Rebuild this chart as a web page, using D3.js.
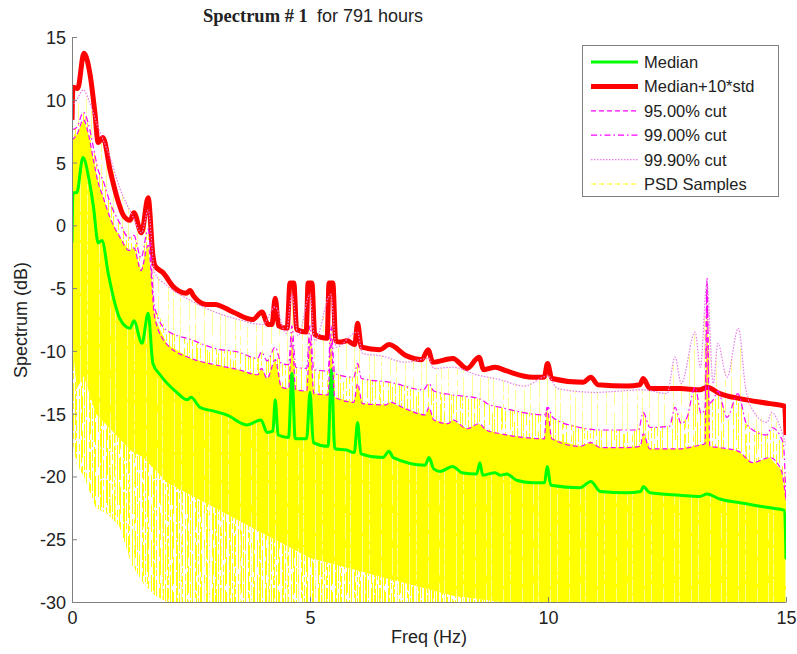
<!DOCTYPE html>
<html>
<head>
<meta charset="utf-8">
<script src="https://cdn.jsdelivr.net/npm/d3@7"></script>
<style>
  body { margin: 0; background: #fff; }
  svg { display: block; }
  .tick text { font-family: Arial, "Liberation Sans", sans-serif; font-size: 18px; fill: #222; }
</style>
</head>
<body>
<script>
// values: [freq Hz, dB]
var median = [[0,-1.4],[0.02,2.6],[0.1,2.6],[0.23,5.4],[0.36,3.6],[0.45,1.5],[0.55,-1.4],[0.63,-1.2],[0.76,-3.8],[0.9,-6.2],[1.0,-7.4],[1.22,-8.2],[1.3,-7.6],[1.47,-9.4],[1.6,-7.0],[1.7,-11.0],[1.85,-11.9],[2.2,-13.3],[2.42,-13.9],[2.5,-13.7],[2.69,-14.5],[2.98,-14.8],[3.25,-15.1],[3.67,-15.9],[3.97,-15.5],[4.1,-16.5],[4.22,-16.4],[4.27,-13.9],[4.33,-16.7],[4.55,-16.9],[4.62,-11.8],[4.69,-17.0],[4.93,-17.0],[5.0,-13.3],[5.07,-17.3],[5.38,-17.6],[5.45,-11.5],[5.52,-17.8],[5.77,-17.9],[5.93,-18.1],[6.0,-15.7],[6.07,-18.2],[6.53,-18.5],[6.66,-18.0],[6.75,-18.5],[7.42,-19.1],[7.5,-18.5],[7.6,-19.4],[7.73,-19.6],[8.0,-19.2],[8.19,-19.7],[8.5,-19.8],[8.57,-18.9],[8.63,-19.9],[8.89,-19.7],[9.0,-19.9],[9.13,-19.8],[9.34,-20.3],[9.68,-20.5],[9.93,-20.5],[9.98,-19.2],[10.06,-20.7],[10.67,-20.9],[10.9,-20.4],[11.1,-21.2],[11.66,-21.3],[11.95,-21.2],[12.0,-20.8],[12.14,-21.3],[12.77,-21.5],[13.19,-21.6],[13.34,-21.4],[13.61,-21.8],[14.03,-22.1],[14.66,-22.5],[14.97,-22.7],[15.0,-26.6]];

var medianStd = [[0,8.4],[0.02,11.0],[0.12,10.9],[0.25,13.7],[0.38,12.0],[0.48,9.0],[0.55,6.6],[0.65,7.0],[0.8,4.4],[0.94,2.3],[1.08,0.8],[1.22,0.4],[1.3,1.0],[1.46,-0.6],[1.6,2.2],[1.7,-2.4],[1.74,-3.2],[1.92,-3.8],[2.13,-4.9],[2.4,-5.4],[2.48,-5.2],[2.55,-5.6],[2.83,-6.3],[3.0,-6.3],[3.38,-6.9],[3.8,-7.5],[3.99,-6.9],[4.12,-7.9],[4.2,-7.9],[4.27,-5.8],[4.34,-8.0],[4.52,-8.2],[4.58,-4.6],[4.66,-4.6],[4.72,-8.3],[4.92,-8.5],[4.96,-4.6],[5.04,-4.6],[5.1,-8.7],[5.36,-9.0],[5.4,-4.6],[5.48,-4.6],[5.54,-9.2],[5.63,-9.3],[5.78,-9.2],[5.94,-9.5],[6.0,-7.8],[6.08,-9.7],[6.47,-9.9],[6.66,-9.5],[7.03,-10.4],[7.35,-10.7],[7.48,-9.9],[7.58,-10.9],[8.0,-10.6],[8.3,-11.4],[8.55,-10.5],[8.65,-11.5],[8.89,-11.3],[9.13,-11.6],[9.68,-12.1],[9.92,-12.1],[9.99,-11.0],[10.08,-12.2],[10.74,-12.5],[10.9,-12.1],[11.05,-12.7],[11.66,-12.8],[11.93,-12.7],[12.0,-12.2],[12.14,-13.0],[12.77,-13.0],[13.19,-13.1],[13.34,-12.9],[13.61,-13.4],[14.03,-13.8],[14.66,-14.2],[14.97,-14.4],[15.0,-16.7]];

var cut95 = [[0,6.8],[0.1,7.2],[0.24,8.4],[0.35,7.2],[0.45,5.2],[0.55,3.4],[0.65,2.3],[0.8,0.6],[1.0,-0.9],[1.2,-2.0],[1.3,-1.8],[1.45,-3.6],[1.6,-1.6],[1.74,-7.4],[2.0,-9.5],[2.5,-10.6],[3.0,-11.1],[3.5,-11.5],[3.9,-11.9],[3.98,-11.4],[4.1,-12.2],[4.27,-10.7],[4.4,-12.9],[4.55,-13.0],[4.62,-9.0],[4.7,-13.1],[4.93,-13.2],[5.0,-9.0],[5.08,-13.4],[5.38,-13.5],[5.44,-9.0],[5.52,-13.7],[5.92,-14.1],[6.0,-12.6],[6.1,-14.2],[6.6,-14.3],[6.68,-14.1],[7.0,-14.6],[7.42,-15.1],[7.5,-14.5],[7.6,-15.5],[7.9,-15.8],[8.0,-15.5],[8.3,-16.2],[8.55,-15.8],[8.7,-16.3],[9.0,-16.6],[9.5,-16.9],[9.92,-17.0],[9.98,-14.5],[10.08,-17.0],[10.67,-17.6],[10.9,-17.3],[11.1,-17.7],[11.66,-17.7],[11.94,-17.6],[12.0,-16.6],[12.14,-17.8],[12.77,-17.8],[13.19,-17.5],[13.3,-17.4],[13.34,-5.0],[13.4,-17.6],[13.6,-17.7],[14.0,-18.0],[14.3,-18.9],[14.66,-18.5],[14.9,-19.5],[15.0,-21.9]];

var cut99 = [[0,7.6],[0.1,7.8],[0.24,9.0],[0.35,8.0],[0.45,6.2],[0.55,4.4],[0.65,3.6],[0.8,1.8],[1.0,0.2],[1.2,-1.0],[1.3,-0.8],[1.45,-2.6],[1.6,-0.3],[1.74,-6.6],[2.0,-8.4],[2.5,-9.1],[3.0,-9.8],[3.5,-10.1],[3.9,-10.6],[3.98,-10.1],[4.1,-10.8],[4.27,-9.7],[4.4,-11.0],[4.55,-11.1],[4.62,-8.0],[4.7,-11.3],[4.93,-11.4],[5.0,-8.0],[5.08,-11.5],[5.38,-11.6],[5.44,-8.0],[5.52,-11.8],[5.92,-12.1],[6.0,-11.0],[6.08,-12.2],[6.68,-12.5],[7.38,-13.1],[7.5,-12.6],[7.6,-13.2],[8.0,-13.5],[8.55,-13.8],[8.78,-14.3],[9.0,-14.5],[9.92,-15.1],[10.0,-14.5],[10.1,-15.3],[10.67,-16.1],[11.1,-16.3],[11.9,-16.3],[12.0,-14.9],[12.14,-16.1],[12.55,-16.0],[12.67,-14.5],[12.8,-15.8],[12.92,-15.3],[13.09,-12.9],[13.22,-15.0],[13.3,-14.5],[13.34,-4.2],[13.38,-14.2],[13.47,-13.9],[13.57,-13.2],[13.76,-15.3],[13.99,-13.4],[14.18,-15.9],[14.6,-16.7],[14.7,-16.1],[14.94,-17.3],[15.0,-21.9]];

var cut999 = [[0,9.5],[0.1,10.0],[0.24,10.8],[0.35,10.0],[0.52,8.1],[0.8,5.4],[1.0,3.0],[1.28,0.7],[1.46,-0.6],[1.6,1.2],[1.74,-3.8],[2.0,-4.8],[2.5,-6.0],[3.0,-6.9],[3.5,-7.5],[4.0,-7.9],[4.27,-6.5],[4.5,-8.6],[4.62,-5.5],[4.75,-8.8],[5.0,-5.5],[5.1,-9.2],[5.44,-5.5],[5.55,-9.7],[6.0,-8.5],[6.1,-10.2],[6.5,-10.4],[7.0,-10.9],[7.5,-10.6],[7.6,-11.4],[8.0,-11.3],[8.5,-11.9],[9.0,-12.3],[9.5,-12.8],[10.0,-12.0],[10.2,-13.0],[11.0,-13.3],[12.0,-13.1],[12.5,-13.4],[12.67,-10.5],[12.8,-12.6],[13.09,-8.5],[13.2,-11.3],[13.34,-4.5],[13.47,-12.6],[13.57,-9.4],[13.76,-12.1],[14.0,-8.2],[14.15,-12.9],[14.3,-14.7],[14.6,-15.7],[14.7,-14.9],[14.9,-16.3],[15.0,-17.5]];

// PSD sample cloud: lower edge of the solid part, and lowest reach of the streaks
var psdSolidLow = [[0,-9],[0.1,-13],[0.25,-12],[0.5,-15],[0.75,-16],[1,-17],[1.25,-18],[1.5,-18.5],[1.75,-19.5],[2,-20.5],[2.5,-21.5],[3,-22.5],[3.5,-23.5],[4,-24.5],[4.5,-25.5],[5,-26.5],[5.5,-27],[6,-27.5],[7,-28.5],[8,-29.5],[9,-30],[15,-30]];
var psdStreakLow = [[0,-17],[0.1,-19],[0.25,-20],[0.5,-22.5],[0.75,-23],[1,-24],[1.25,-27],[1.5,-28.5],[1.75,-29.5],[2,-30],[15,-30]];

var xTicks = [0, 5, 10, 15];
var yTicks = [15, 10, 5, 0, -5, -10, -15, -20, -25, -30];
var legendNames = ["Median", "Median+10*std", "95.00% cut", "99.00% cut", "99.90% cut", "PSD Samples"];

var W = 797, H = 654;
var x = d3.scaleLinear().domain([0, 15]).range([72, 786]);
var y = d3.scaleLinear().domain([-30, 15]).range([602, 37]);

var svg = d3.select("body").append("svg").attr("width", W).attr("height", H);
var defs = svg.append("defs");

defs.append("clipPath").attr("id", "plotclip")
    .append("rect").attr("x", 72).attr("y", 37).attr("width", 714).attr("height", 565);

// streak textures for the sample cloud (style only)
var dashSet = ["23,4", "9,3,31,6", "14,2", "40,5,7,3", "6,4,18,2", "27,8", "11,2,5,3", "50,3"];
function streaks(id, width, offsets, color, opacity) {
    var p = defs.append("pattern").attr("id", id)
        .attr("patternUnits", "userSpaceOnUse")
        .attr("width", width).attr("height", 240);
    offsets.forEach(function(o, i) {
        p.append("line")
            .attr("x1", o + 0.5).attr("x2", o + 0.5)
            .attr("y1", 0).attr("y2", 240)
            .attr("stroke", color).attr("stroke-width", 1)
            .attr("stroke-opacity", opacity)
            .attr("stroke-dasharray", dashSet[(i * 5) % dashSet.length])
            .attr("stroke-dashoffset", (i * 37) % 61);
    });
}
streaks("psdDense", 53, [0,1,3,4,6,8,9,11,13,14,17,18,20,22,23,26,28,29,31,33,36,37,39,41,42,45,47,48,50], "#ffff00", 1);
streaks("psdMid", 61, [1,4,6,9,13,14,17,22,24,26,29,33,35,38,41,44,47,50,52,57], "#ffff00", 0.85);
streaks("psdFaint", 67, [3,11,19,24,34,39,46,55,61], "#ffff50", 0.6);
streaks("psdHair", 47, [5,16,21,33,40], "#ffffff", 0.55);

function pts(d) { return d.map(function(p) { return [x(p[0]), y(p[1])]; }); }
function band(top, bottom) {
    return d3.line()(pts(top).concat(pts(bottom).reverse())) + "Z";
}

var plot = svg.append("g").attr("clip-path", "url(#plotclip)");

plot.append("path").attr("d", band(cut999, cut99)).attr("fill", "url(#psdFaint)");
plot.append("path").attr("d", band(cut99, cut95)).attr("fill", "url(#psdMid)");
plot.append("path").attr("d", band(psdSolidLow, psdStreakLow)).attr("fill", "url(#psdDense)");
plot.append("path").attr("d", band(cut95, psdSolidLow)).attr("fill", "#ffff00");
plot.append("path").attr("d", band(median, psdStreakLow)).attr("fill", "url(#psdHair)");

var line = d3.line().curve(d3.curveMonotoneX)
    .x(function(d) { return x(d[0]); }).y(function(d) { return y(d[1]); });

var series = [
    { data: median,    color: "#00ff00", width: 3,   dash: null },
    { data: medianStd, color: "#ff0000", width: 5,   dash: null },
    { data: cut95,     color: "#ff00ff", width: 1.2, dash: "5,3" },
    { data: cut99,     color: "#ff00ff", width: 1.2, dash: "6,3,1.5,3" },
    { data: cut999,    color: "#e87ce8", width: 1.2, dash: "1.5,1.5" }
];
series.forEach(function(s) {
    plot.append("path").datum(s.data)
        .attr("d", line)
        .attr("fill", "none")
        .attr("stroke", s.color)
        .attr("stroke-width", s.width)
        .attr("stroke-linejoin", "round")
        .attr("stroke-dasharray", s.dash);
});

// axes, ticks pointing inward
var fmt = function(d) { return String(d); };
var xAxis = svg.append("g").attr("transform", "translate(0,602)")
    .call(d3.axisBottom(x).tickValues(xTicks).tickFormat(fmt)
        .tickSizeInner(-5).tickSizeOuter(0).tickPadding(9));
var yAxis = svg.append("g").attr("transform", "translate(72,0)")
    .call(d3.axisLeft(y).tickValues(yTicks).tickFormat(fmt)
        .tickSizeInner(-5).tickSizeOuter(0).tickPadding(6));
[xAxis, yAxis].forEach(function(a) {
    a.select(".domain").attr("stroke", "#808080");
    a.selectAll(".tick line").attr("stroke", "#808080");
});
yAxis.selectAll(".tick text").attr("dy", "0.36em");

svg.append("text").attr("x", 429).attr("y", 643)
    .attr("text-anchor", "middle")
    .style("font-family", "Arial, 'Liberation Sans', sans-serif").style("font-size", "18px").style("fill", "#222")
    .text("Freq (Hz)");
svg.append("text").attr("transform", "translate(27,320) rotate(-90)")
    .attr("text-anchor", "middle")
    .style("font-family", "Arial, 'Liberation Sans', sans-serif").style("font-size", "18px").style("fill", "#222")
    .text("Spectrum (dB)");

var title = svg.append("text").attr("y", 22).style("fill", "#222");
title.append("tspan").attr("x", 203)
    .style("font-family", "'Times New Roman', 'Liberation Serif', serif")
    .style("font-weight", "bold").style("font-size", "18.5px")
    .text("Spectrum # 1");
title.append("tspan").attr("x", 317)
    .style("font-family", "Arial, 'Liberation Sans', sans-serif").style("font-size", "18px")
    .text("for 791 hours");

// legend
var leg = svg.append("g");
leg.append("rect").attr("x", 582.5).attr("y", 45.5).attr("width", 196).attr("height", 151)
    .attr("fill", "#fff").attr("stroke", "#7f7f7f");
var legStyles = series.concat([{ color: "#ffff00", width: 1, dash: "5,3" }]);
legendNames.forEach(function(name, i) {
    var yy = 62 + i * 24.4;
    var s = legStyles[i];
    leg.append("line").attr("x1", 591).attr("x2", 638).attr("y1", yy).attr("y2", yy)
        .attr("stroke", s.color).attr("stroke-width", s.width)
        .attr("stroke-dasharray", s.dash);
    leg.append("text").attr("x", 644).attr("y", yy + 6)
        .style("font-family", "Arial, 'Liberation Sans', sans-serif").style("font-size", "16.5px").style("fill", "#222")
        .text(name);
});
</script>
</body>
</html>
